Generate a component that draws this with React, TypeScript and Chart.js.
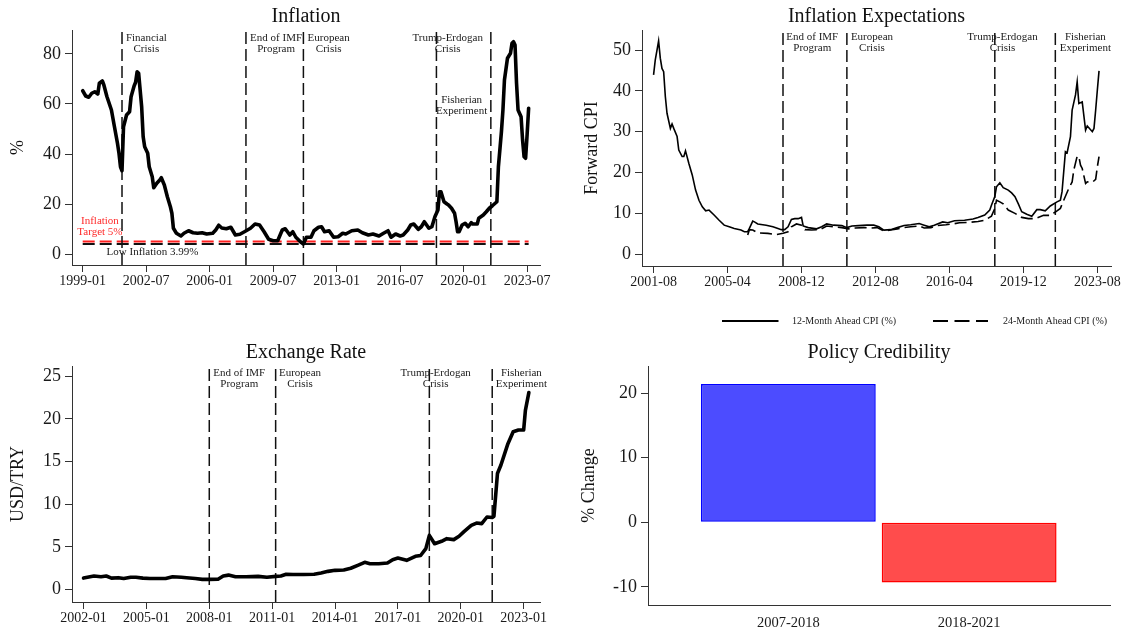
import React, { useEffect, useRef } from "react";
import { Chart, registerables } from "chart.js";

Chart.register(...registerables);

const SERIF = "'Liberation Serif', 'Times New Roman', Times, serif";
const INK = "#1a1a1a";
const AXIS = "#333333";

// ---------------- Inflation (top left) ----------------
const inflationDates = [
  "1999-01","1999-03","1999-05","1999-07","1999-09","1999-11","1999-12","2000-02","2000-03","2000-05",
  "2000-08","2000-10","2000-12","2001-01","2001-02","2001-03","2001-04","2001-06","2001-08","2001-09",
  "2001-11","2001-12","2002-01","2002-02","2002-04","2002-05","2002-06","2002-08","2002-09","2002-11",
  "2002-12","2003-02","2003-04","2003-05","2003-07","2003-09","2003-11","2003-12","2004-01","2004-03",
  "2004-06","2004-08","2004-11","2005-02","2005-05","2005-08","2005-11","2006-03","2006-05","2006-07",
  "2006-09","2006-12","2007-03","2007-06","2007-09","2007-12","2008-04","2008-07","2008-10","2009-01",
  "2009-04","2009-07","2009-10","2010-01","2010-03","2010-06","2010-08","2010-10","2011-01","2011-03",
  "2011-05","2011-08","2011-10","2012-01","2012-03","2012-05","2012-08","2012-11","2013-02","2013-05",
  "2013-07","2013-11","2014-03","2014-06","2014-10","2015-01","2015-05","2015-08","2015-11","2016-01",
  "2016-04","2016-07","2016-09","2016-12","2017-02","2017-04","2017-07","2017-09","2017-11","2018-02",
  "2018-04","2018-06","2018-08","2018-09","2018-10","2018-12","2019-02","2019-03","2019-05","2019-07",
  "2019-08","2019-09","2019-10","2019-12","2020-02","2020-04","2020-06","2020-07","2020-10","2020-11",
  "2021-02","2021-04","2021-06","2021-08","2021-11","2021-12","2022-02","2022-03","2022-04","2022-06",
  "2022-08","2022-09","2022-10","2022-11","2022-12","2023-01","2023-03","2023-04","2023-05","2023-06",
  "2023-07","2023-08",
];
const inflationValues = [
  65.3, 63.2, 62.7, 64.3, 64.9, 64.0, 68.3, 69.2, 67.6, 63.0,
  57.6, 50.9, 44.3, 40.3, 34.9, 33.3, 50.9, 55.6, 56.9, 62.9,
  67.2, 68.7, 72.9, 72.3, 58.9, 46.9, 42.9, 40.3, 34.9, 30.9,
  26.5, 28.3, 29.6, 30.5, 27.6, 22.9, 18.9, 16.3, 10.3, 8.3,
  7.2, 8.3, 9.3, 8.5, 8.3, 8.5, 8.0, 8.3, 9.6, 11.5,
  10.4, 10.1, 10.7, 7.6, 7.9, 8.9, 10.3, 12.0, 11.6, 8.9,
  5.9, 5.3, 5.3, 9.6, 10.1, 7.6, 8.9, 6.7, 4.9, 4.0,
  6.7, 6.7, 9.3, 10.7, 10.9, 8.9, 9.3, 6.7, 6.9, 8.3,
  8.0, 9.3, 9.6, 8.5, 7.6, 8.0, 7.2, 8.3, 9.3, 6.7,
  8.0, 7.2, 7.6, 9.6, 11.6, 12.0, 9.9, 10.9, 12.9, 10.3,
  10.9, 14.9, 17.6, 24.9, 24.9, 20.9, 20.0, 19.6, 18.3, 16.3,
  12.9, 8.9, 8.9, 11.6, 12.3, 10.9, 12.5, 12.0, 12.0, 14.3,
  15.6, 16.9, 18.3, 19.3, 20.9, 34.9, 48.9, 57.6, 69.6, 78.3,
  80.3, 84.3, 84.9, 83.6, 68.3, 57.6, 54.9, 45.6, 38.9, 38.3,
  47.8, 58.3,
];
const inflationTicks = ["1999-01","2002-07","2006-01","2009-07","2013-01","2016-07","2020-01","2023-07"];
const inflationYTicks = [0, 20, 40, 60, 80];
const inflationTarget = 5;
const lowInflation = 3.99;
const inflationEvents = ["2001-03", "2008-01", "2011-03", "2018-07", "2021-07"];
const inflationNoteText = ["Financial\nCrisis", "End of IMF\nProgram", "European\nCrisis", "Trump-Erdogan\nCrisis", "Fisherian\nExperiment"];
const inflationNoteX = [2002.51, 2009.66, 2012.56, 2019.12, 2019.89];
const inflationNoteY = [86.3, 86.3, 86.3, 86.3, 61.6];

// ---------------- Inflation expectations (top right) ----------------
const exp12Dates = [
  "2001-08","2001-09","2001-11","2001-12","2002-01","2002-02","2002-03","2002-04","2002-06","2002-07",
  "2002-08","2002-10","2002-11","2003-01","2003-02","2003-03","2003-05","2003-07","2003-09","2003-11",
  "2004-01","2004-03","2004-05","2004-08","2004-11","2005-02","2005-05","2005-08","2005-12","2006-02",
  "2006-04","2006-05","2006-07","2006-08","2006-10","2007-03","2007-07","2007-10","2007-12","2008-02",
  "2008-04","2008-06","2008-08","2008-10","2008-12","2009-01","2009-04","2009-09","2009-12","2010-03",
  "2010-07","2010-12","2011-03","2011-06","2011-10","2012-03","2012-07","2012-10","2013-01","2013-05",
  "2013-09","2014-01","2014-05","2014-10","2015-01","2015-04","2015-07","2015-12","2016-03","2016-07",
  "2017-01","2017-06","2017-09","2018-01","2018-04","2018-05","2018-07","2018-08","2018-10","2018-12",
  "2019-03","2019-05","2019-07","2019-09","2019-11","2020-02","2020-05","2020-08","2020-10","2021-01",
  "2021-04","2021-08","2021-10","2021-11","2022-01","2022-02","2022-04","2022-05","2022-07","2022-08",
  "2022-09","2022-11","2023-01","2023-02","2023-05","2023-06","2023-07","2023-08","2023-09",
];
const exp12Values = [
  43.9, 47.5, 52.2, 48.0, 45.5, 44.7, 38.6, 34.5, 30.8, 31.9,
  30.8, 28.8, 25.5, 23.9, 23.9, 25.3, 22.2, 19.4, 15.7, 13.2,
  11.6, 10.6, 10.8, 9.6, 8.3, 7.1, 6.7, 6.3, 5.9, 5.5,
  5.5, 6.3, 8.1, 7.9, 7.4, 7.1, 6.7, 6.3, 6.0, 6.0,
  6.7, 8.5, 8.7, 8.7, 9.0, 6.9, 6.5, 6.2, 6.7, 7.4,
  7.1, 7.0, 6.5, 6.9, 7.0, 7.1, 7.1, 6.7, 5.9, 6.0,
  6.5, 7.0, 7.2, 7.5, 7.1, 6.7, 7.1, 7.9, 7.7, 8.2,
  8.3, 8.6, 9.0, 9.6, 10.8, 12.0, 14.1, 16.5, 17.5, 16.3,
  15.7, 15.0, 14.1, 12.3, 10.4, 9.8, 9.3, 10.9, 10.9, 10.6,
  11.8, 12.8, 13.2, 15.3, 25.1, 24.8, 28.8, 35.3, 39.0, 42.2,
  36.9, 37.3, 30.4, 31.4, 30.0, 30.8, 35.3, 40.2, 44.9,
];
const exp24Dates = [
  "2006-04","2006-05","2006-07","2006-10","2007-04","2007-09","2008-01","2008-04","2008-06","2008-09",
  "2008-12","2009-02","2009-06","2009-11","2010-03","2010-07","2010-12","2011-04","2011-08","2012-01",
  "2012-05","2012-09","2013-01","2013-05","2013-09","2014-01","2014-05","2014-10","2015-01","2015-05",
  "2015-09","2016-02","2016-06","2016-10","2017-04","2017-09","2018-01","2018-05","2018-07","2018-08",
  "2018-10","2018-12","2019-03","2019-07","2019-11","2020-03","2020-07","2020-12","2021-04","2021-08",
  "2021-10","2021-12","2022-03","2022-05","2022-06","2022-08","2022-09","2022-10","2022-11","2023-01",
  "2023-02","2023-05","2023-07","2023-08","2023-09",
];
const exp24Values = [
  4.7, 6.0, 5.9, 5.2, 5.1, 4.8, 5.1, 5.5, 6.7, 7.4,
  7.1, 6.0, 5.9, 6.0, 6.9, 6.7, 6.5, 6.2, 6.4, 6.5,
  6.4, 6.5, 5.7, 5.9, 6.2, 6.5, 6.7, 6.9, 6.4, 6.5,
  7.0, 7.2, 7.4, 7.7, 7.8, 8.0, 8.3, 9.3, 11.2, 13.2,
  12.8, 12.3, 10.8, 10.0, 9.0, 8.7, 8.7, 9.5, 9.5, 10.6,
  11.2, 13.2, 16.1, 17.7, 20.6, 24.0, 23.9, 21.8, 21.0, 17.3,
  17.7, 17.6, 18.3, 21.4, 23.9,
];
const expTicks = ["2001-08","2005-04","2008-12","2012-08","2016-04","2019-12","2023-08"];
const expYTicks = [0, 10, 20, 30, 40, 50];
const seriesNames = ["12-Month Ahead CPI (%)", "24-Month Ahead CPI (%)"];
const policyEvents = ["2008-01", "2011-03", "2018-07", "2021-07"];
const policyNoteText = ["End of IMF\nProgram", "European\nCrisis", "Trump-Erdogan\nCrisis", "Fisherian\nExperiment"];
const expNoteX = [2009.45, 2012.41, 2018.88, 2022.99];
const expNoteY = 53.1;

// ---------------- Exchange rate (bottom left) ----------------
const fxDates = [
  "2002-01","2002-07","2002-11","2003-02","2003-05","2003-09","2003-12","2004-04","2004-07","2004-11",
  "2005-03","2005-07","2005-12","2006-04","2006-09","2006-12","2007-05","2007-09","2008-01","2008-06",
  "2008-09","2008-12","2009-04","2009-10","2010-05","2010-10","2011-03","2011-06","2011-09","2012-01",
  "2012-07","2013-01","2013-05","2013-09","2014-01","2014-06","2014-10","2015-02","2015-06","2015-09",
  "2016-02","2016-07","2016-10","2017-01","2017-06","2017-11","2018-02","2018-05","2018-07","2018-10",
  "2019-02","2019-05","2019-09","2019-12","2020-03","2020-07","2020-10","2021-01","2021-04","2021-07",
  "2021-08","2021-10","2021-12","2022-04","2022-07","2022-10","2023-01","2023-02","2023-04",
];
const fxValues = [
  1.35, 1.6, 1.5, 1.6, 1.35, 1.4, 1.3, 1.45, 1.45, 1.35,
  1.3, 1.3, 1.3, 1.5, 1.45, 1.4, 1.3, 1.2, 1.2, 1.22,
  1.6, 1.7, 1.5, 1.5, 1.55, 1.45, 1.55, 1.6, 1.8, 1.78,
  1.78, 1.8, 1.95, 2.14, 2.26, 2.3, 2.5, 2.84, 3.2, 3.04,
  3.04, 3.12, 3.51, 3.7, 3.43, 3.9, 4.0, 4.8, 6.36, 5.38,
  5.66, 5.97, 5.86, 6.25, 6.83, 7.53, 7.8, 7.73, 8.51, 8.45,
  8.6, 13.6, 14.6, 17.1, 18.5, 18.7, 18.7, 21.0, 23.1,
];
const fxTicks = ["2002-01","2005-01","2008-01","2011-01","2014-01","2017-01","2020-01","2023-01"];
const fxYTicks = [0, 5, 10, 15, 20, 25];
const fxNoteX = [2009.43, 2012.33, 2018.80, 2022.89];
const fxNoteY = 25.4;

// ---------------- Policy credibility (bottom right) ----------------
const credCategories = ["2007-2018", "2018-2021"];
const credValues = [21.4, -9.3];
const credYTicks = [-10, 0, 10, 20];

// ---------------- helpers ----------------
function ym(s: string): number {
  const [y, m] = s.split("-").map(Number);
  return y + (m - 1) / 12;
}
function pts(dates: string[], values: number[]) {
  return dates.map((d, i) => ({ x: ym(d), y: values[i] }));
}

type Area = { left: number; top: number; right: number; bottom: number };
type Box = { left: number; top: number; width: number; height: number; area: Area };

function axis(
  kind: "x" | "y",
  box: Box,
  min: number,
  max: number,
  ticks: number[],
  labels: string[],
  o: { fontSize: number; tickLength: number; padding: number; drawTicks?: boolean }
) {
  const drawTicks = o.drawTicks !== false;
  return {
    type: "linear",
    position: kind === "x" ? "bottom" : "left",
    min,
    max,
    offset: false,
    grid: {
      display: drawTicks,
      drawOnChartArea: false,
      drawTicks,
      tickLength: o.tickLength,
      color: AXIS,
      lineWidth: 1,
      offset: false,
    },
    border: { display: true, color: AXIS, width: 1 },
    ticks: {
      autoSkip: false,
      maxRotation: 0,
      minRotation: 0,
      padding: o.padding,
      color: INK,
      font: { family: SERIF, size: o.fontSize },
      callback: (_v: any, i: number) => labels[i],
    },
    afterBuildTicks: (s: any) => {
      s.ticks = ticks.map((v) => ({ value: v }));
    },
    afterFit: (s: any) => {
      if (kind === "x") s.height = box.height - box.area.bottom;
      else s.width = box.area.left;
      s.paddingLeft = 0;
      s.paddingRight = 0;
      s.paddingTop = 0;
      s.paddingBottom = 0;
    },
  };
}

type Note = { text: string; x: number; y: number; color?: string };
type Deco = {
  title: string;
  yTitle: string;
  yTitleOffset: number;
  vlines?: number[];
  hlines?: { y: number; x0: number; x1: number; color: string }[];
  notes?: Note[];
  legend?: boolean;
};

function decorations(d: Deco) {
  return {
    id: "decorations",
    beforeDatasetsDraw(chart: any) {
      const { ctx, chartArea: a } = chart;
      const xs = chart.scales.x;
      const ys = chart.scales.y;
      ctx.save();
      ctx.lineCap = "butt";
      for (const h of d.hlines ?? []) {
        ctx.strokeStyle = h.color;
        ctx.lineWidth = 2;
        ctx.setLineDash([12, 5]);
        const py = ys.getPixelForValue(h.y);
        ctx.beginPath();
        ctx.moveTo(xs.getPixelForValue(h.x0), py);
        ctx.lineTo(xs.getPixelForValue(h.x1), py);
        ctx.stroke();
      }
      ctx.strokeStyle = "#111";
      ctx.lineWidth = 1.5;
      ctx.setLineDash([12, 5]);
      for (const v of d.vlines ?? []) {
        const px = xs.getPixelForValue(v);
        ctx.beginPath();
        ctx.moveTo(px, a.bottom);
        ctx.lineTo(px, a.top);
        ctx.stroke();
      }
      ctx.restore();
    },
    afterDraw(chart: any) {
      const { ctx, chartArea: a } = chart;
      const xs = chart.scales.x;
      const ys = chart.scales.y;
      ctx.save();
      ctx.setLineDash([]);
      // notes
      ctx.textAlign = "center";
      ctx.textBaseline = "middle";
      ctx.font = `11px ${SERIF}`;
      for (const n of d.notes ?? []) {
        ctx.fillStyle = n.color ?? INK;
        const px = xs.getPixelForValue(n.x);
        const py = ys.getPixelForValue(n.y);
        n.text.split("\n").forEach((line, i) => ctx.fillText(line, px, py + i * 11));
      }
      // title
      ctx.fillStyle = "#111";
      ctx.font = `20px ${SERIF}`;
      ctx.fillText(d.title, (a.left + a.right) / 2, a.top - 13);
      // y title
      ctx.save();
      ctx.translate(a.left - d.yTitleOffset, (a.top + a.bottom) / 2);
      ctx.rotate(-Math.PI / 2);
      ctx.font = `18px ${SERIF}`;
      ctx.fillText(d.yTitle, 0, 0);
      ctx.restore();
      // legend
      if (d.legend) {
        const y = a.bottom + 55;
        ctx.strokeStyle = "#000";
        ctx.lineWidth = 2;
        ctx.beginPath();
        ctx.moveTo(a.left + 80, y);
        ctx.lineTo(a.left + 136.5, y);
        ctx.stroke();
        ctx.setLineDash([15, 6.5]);
        ctx.beginPath();
        ctx.moveTo(a.left + 291, y);
        ctx.lineTo(a.left + 346, y);
        ctx.stroke();
        ctx.setLineDash([]);
        ctx.font = `10px ${SERIF}`;
        ctx.textAlign = "left";
        ctx.fillStyle = INK;
        ctx.fillText(seriesNames[0], a.left + 150, y);
        ctx.fillText(seriesNames[1], a.left + 361, y);
      }
      ctx.restore();
    },
  };
}

function baseOptions(box: Box, scales: any) {
  return {
    responsive: false,
    maintainAspectRatio: false,
    animation: false,
    events: [],
    layout: { padding: { left: 0, top: box.area.top, right: box.width - box.area.right, bottom: 0 } },
    plugins: { legend: { display: false }, tooltip: { enabled: false }, title: { display: false } },
    scales,
  };
}

const xTickOpts = { fontSize: 14, tickLength: 7, padding: 1 };
const yTickOpts = { fontSize: 18, tickLength: 7, padding: 4 };

// ---------------- panels ----------------
const inflationBox: Box = { left: 0, top: 0, width: 560, height: 300, area: { left: 72, top: 30, right: 540, bottom: 265 } };
const expBox: Box = { left: 560, top: 0, width: 565, height: 335, area: { left: 82, top: 30, right: 551, bottom: 266 } };
const fxBox: Box = { left: 0, top: 335, width: 560, height: 298, area: { left: 72, top: 31, right: 540, bottom: 267 } };
const credBox: Box = { left: 560, top: 335, width: 565, height: 298, area: { left: 88, top: 31, right: 550, bottom: 270 } };

function inflationConfig() {
  const box = inflationBox;
  const first = ym(inflationDates[0]);
  const last = ym(inflationDates[inflationDates.length - 1]);
  return {
    type: "line",
    data: {
      datasets: [
        {
          data: pts(inflationDates, inflationValues),
          borderColor: "#000",
          borderWidth: 3.6,
          pointRadius: 0,
          tension: 0,
          borderJoinStyle: "round",
          borderCapStyle: "round",
        },
      ],
    },
    options: baseOptions(box, {
      x: axis("x", box, 1998.41, 2024.21, inflationTicks.map(ym), inflationTicks, xTickOpts),
      y: axis("y", box, -4.4, 89.6, inflationYTicks, inflationYTicks.map(String), yTickOpts),
    }),
    plugins: [
      decorations({
        title: "Inflation",
        yTitle: "%",
        yTitleOffset: 54,
        vlines: inflationEvents.map(ym),
        hlines: [
          { y: lowInflation, x0: first, x1: last, color: "#111" },
          { y: inflationTarget, x0: first, x1: last, color: "#ff2020" },
        ],
        notes: [
          ...inflationNoteText.map((t, i) => ({ text: t, x: inflationNoteX[i], y: inflationNoteY[i] })),
          { text: `Inflation\nTarget ${inflationTarget}%`, x: 1999.95, y: 13.2, color: "#ff2a2a" },
          { text: `Low Inflation ${lowInflation}%`, x: 2002.85, y: 0.9 },
        ],
      }),
    ],
  };
}

function expConfig() {
  const box = expBox;
  return {
    type: "line",
    data: {
      datasets: [
        {
          label: seriesNames[0],
          data: pts(exp12Dates, exp12Values),
          borderColor: "#000",
          borderWidth: 1.6,
          pointRadius: 0,
          tension: 0,
        },
        {
          label: seriesNames[1],
          data: pts(exp24Dates, exp24Values),
          borderColor: "#000",
          borderWidth: 1.6,
          borderDash: [12, 5],
          pointRadius: 0,
          tension: 0,
        },
      ],
    },
    options: baseOptions(box, {
      x: axis("x", box, 2001.01, 2024.26, expTicks.map(ym), expTicks, xTickOpts),
      y: axis("y", box, -2.9, 54.9, expYTicks, expYTicks.map(String), yTickOpts),
    }),
    plugins: [
      decorations({
        title: "Inflation Expectations",
        yTitle: "Forward CPI",
        yTitleOffset: 50,
        vlines: policyEvents.map(ym),
        notes: policyNoteText.map((t, i) => ({ text: t, x: expNoteX[i], y: expNoteY })),
        legend: true,
      }),
    ],
  };
}

function fxConfig() {
  const box = fxBox;
  return {
    type: "line",
    data: {
      datasets: [
        {
          data: pts(fxDates, fxValues),
          borderColor: "#000",
          borderWidth: 3.6,
          pointRadius: 0,
          tension: 0,
          borderJoinStyle: "round",
          borderCapStyle: "round",
        },
      ],
    },
    options: baseOptions(box, {
      x: axis("x", box, 2001.45, 2023.78, fxTicks.map(ym), fxTicks, xTickOpts),
      y: axis("y", box, -1.45, 26.2, fxYTicks, fxYTicks.map(String), yTickOpts),
    }),
    plugins: [
      decorations({
        title: "Exchange Rate",
        yTitle: "USD/TRY",
        yTitleOffset: 53.5,
        vlines: policyEvents.map(ym),
        notes: policyNoteText.map((t, i) => ({ text: t, x: fxNoteX[i], y: fxNoteY })),
      }),
    ],
  };
}

function credConfig() {
  const box = credBox;
  return {
    type: "bar",
    data: {
      datasets: [
        {
          data: credValues.map((v, i) => ({ x: i, y: v })),
          backgroundColor: ["rgba(0,0,255,0.7)", "rgba(255,0,0,0.7)"],
          borderColor: ["#0000ff", "#ff0000"],
          borderWidth: 1.5,
          borderSkipped: false,
          categoryPercentage: 1,
          barPercentage: 0.967,
        },
      ],
    },
    options: baseOptions(box, {
      x: axis("x", box, -0.776, 1.779, credCategories.map((_, i) => i), credCategories, {
        fontSize: 14.5,
        tickLength: 0,
        padding: 9,
        drawTicks: false,
      }),
      y: axis("y", box, -12.8, 24.2, credYTicks, credYTicks.map(String), yTickOpts),
    }),
    plugins: [
      decorations({
        title: "Policy Credibility",
        yTitle: "% Change",
        yTitleOffset: 59,
      }),
    ],
  };
}

function Panel({ box, make }: { box: Box; make: () => any }) {
  const ref = useRef<HTMLCanvasElement>(null);
  useEffect(() => {
    if (!ref.current) return;
    const chart = new Chart(ref.current, make());
    return () => chart.destroy();
  }, []);
  return (
    <canvas
      ref={ref}
      width={box.width}
      height={box.height}
      style={{ position: "absolute", left: box.left, top: box.top, width: box.width, height: box.height }}
    />
  );
}

export default function App() {
  return (
    <div
      style={{
        position: "absolute",
        left: 0,
        top: 0,
        width: 1125,
        height: 633,
        background: "#ffffff",
        overflow: "hidden",
      }}
    >
      <Panel box={inflationBox} make={inflationConfig} />
      <Panel box={expBox} make={expConfig} />
      <Panel box={fxBox} make={fxConfig} />
      <Panel box={credBox} make={credConfig} />
    </div>
  );
}
